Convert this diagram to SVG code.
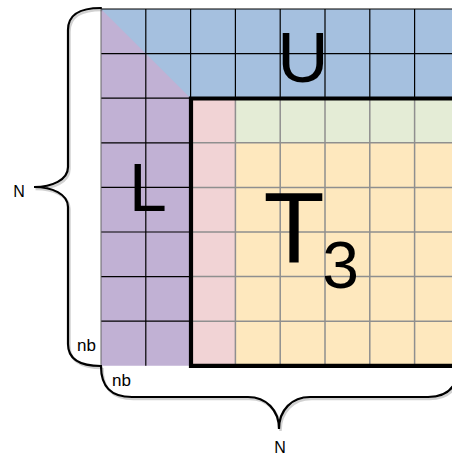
<svg xmlns="http://www.w3.org/2000/svg" width="452" height="459" viewBox="0 0 452 459">
<style>
.blk{stroke:#000;stroke-width:1.2;fill:none}
.gry{stroke:#8f8f8f;stroke-width:1.5;fill:none}
.thick{stroke:#000;stroke-width:4.2;fill:none}
.brace{stroke:#000;stroke-width:2.2;fill:none;stroke-linecap:round}
.shadow{stroke:#000;stroke-opacity:0.18;stroke-width:2.5;fill:none}
.big{font-family:"Liberation Sans",Arial,sans-serif;fill:#000}
.lbl{font-family:"Liberation Sans",Arial,sans-serif;fill:#000}
</style>
<rect width="452" height="459" fill="#fff"/>
<g id="node-U">
<rect x="101" y="9" width="360" height="89.2" fill="#A5C0DF"/>
</g>
<g id="node-L">
<polygon points="101,9 190.6,98.2 190.6,365.8 101,365.8" fill="#C1B1D4"/>
</g>
<g id="node-T3">
<rect x="190.6" y="98.2" width="44.8" height="267.6" fill="#F1D3D5"/>
<rect x="235.4" y="98.2" width="225" height="44.6" fill="#E4ECD6"/>
<rect x="235.4" y="142.8" width="225" height="223" fill="#FEE8BE"/>
<g class="gry">
<path d="M235.4,98.2V365.8M280.2,98.2V365.8M325,98.2V365.8M369.8,98.2V365.8M414.6,98.2V365.8"/>
<path d="M190.6,142.8H460M190.6,187.4H460M190.6,232H460M190.6,276.6H460M190.6,321.2H460"/>
</g>
</g>
<g id="grid-lines" class="blk">
<path d="M101,9H460M101,53.6H460M101,98.2H460"/>
<path d="M101,142.8H190.6M101,187.4H190.6M101,232H190.6M101,276.6H190.6M101,321.2H190.6"/>
<path d="M145.8,9V365.8M190.6,9V98.2M235.4,9V98.2M280.2,9V98.2M325,9V98.2M369.8,9V98.2M414.6,9V98.2"/>
<path d="M101,9V365.8" stroke="#666" stroke-width="1"/>
</g>
<g id="node-T3-border">
<path class="thick" d="M462,98.5H191V365.9H462"/>
</g>
<g id="labels">
<text class="big" x="303" y="82" font-size="71" text-anchor="middle">U</text>
<text class="big" x="129" y="211" font-size="68">L</text>
<text class="big" x="294" y="262" font-size="100" text-anchor="middle">T</text>
<text class="big" x="340.5" y="288" font-size="66" text-anchor="middle">3</text>
<text class="lbl" x="77" y="351" font-size="17">nb</text>
<text class="lbl" x="112" y="386" font-size="17">nb</text>
<text class="lbl" x="19" y="197" font-size="16" text-anchor="middle">N</text>
<text class="lbl" x="280" y="453" font-size="16" text-anchor="middle">N</text>
</g>
<g id="connectors">
<path class="shadow" transform="translate(1.5,2)" d="M101,8C80,8 68,14 68,30L68,167C68,180 52,187 34,187C52,187 68,194 68,207L68,344C68,358 78,366 101,366"/>
<path class="brace" d="M101,8C80,8 68,14 68,30L68,167C68,180 52,187 34,187C52,187 68,194 68,207L68,344C68,358 78,366 101,366"/>
<path class="shadow" transform="translate(1.5,2)" d="M101,366C101,386 110,397 132,397L248,397C266,397 279,410 279,429C279,410 292,397 310,397L428,397C448,397 458,386 458,366"/>
<path class="brace" d="M101,366C101,386 110,397 132,397L248,397C266,397 279,410 279,429C279,410 292,397 310,397L428,397C448,397 458,386 458,366"/>
</g>
</svg>
